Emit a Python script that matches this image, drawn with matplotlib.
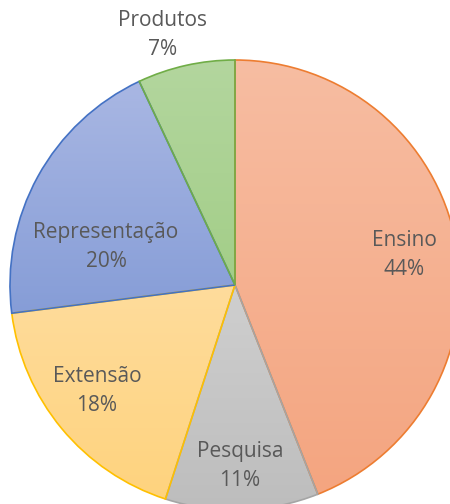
import matplotlib
matplotlib.use("Agg")
import matplotlib.pyplot as plt
import numpy as np
from matplotlib.colors import LinearSegmentedColormap

categories = ["Ensino", "Pesquisa", "Extensão", "Representação", "Produtos"]
shares = [44, 11, 18, 20, 7]

EDGE = ["#ED7D31", "#A5A5A5", "#FFC000", "#4472C4", "#70AD47"]
TOP = ["#F7BDA2", "#CFCFCF", "#FEDC9C", "#A9B7E3", "#B3D69E"]
BOTTOM = ["#F4A580", "#BDBDBD", "#FFD37E", "#869DD7", "#A3CE88"]
TXT = "#595959"

# label centres, pixel offsets from pie centre (x right, y up)
label_pos = [(169, 30), (5, -181), (-138, -106), (-129, 38), (-72, 250)]

W, H = 450, 504
CX, CY, R = 235, H - 285, 225

fig = plt.figure(figsize=(W / 100, H / 100), dpi=100)
ax = fig.add_axes([0, 0, 1, 1])

wedges, _ = ax.pie(shares, startangle=90, counterclock=False, center=(CX, CY),
                   radius=R, frame=True,
                   wedgeprops=dict(linewidth=1.2, facecolor="none"))

grad = np.linspace(0, 1, 256).reshape(-1, 1)
for w, top, bot, ec in zip(wedges, TOP, BOTTOM, EDGE):
    w.set_edgecolor(ec)
    w.set_zorder(3)
    verts = w.get_path().vertices
    y0, y1 = verts[:, 1].min(), verts[:, 1].max()
    cmap = LinearSegmentedColormap.from_list("g", [bot, top])
    im = ax.imshow(grad, cmap=cmap, origin="lower", aspect="auto",
                   extent=(CX - R, CX + R, y0, y1), zorder=2)
    im.set_clip_path(w)

ax.set_xlim(0, W)
ax.set_ylim(0, H)
ax.set_aspect("equal")
ax.axis("off")

for name, v, (dx, dy) in zip(categories, shares, label_pos):
    ax.text(CX + dx, CY + dy, f"{name}\n{v}%", ha="center", va="center",
            fontsize=15, color=TXT, family="Open Sans", linespacing=1.45,
            zorder=5)

fig.savefig("out.png", dpi=100)
